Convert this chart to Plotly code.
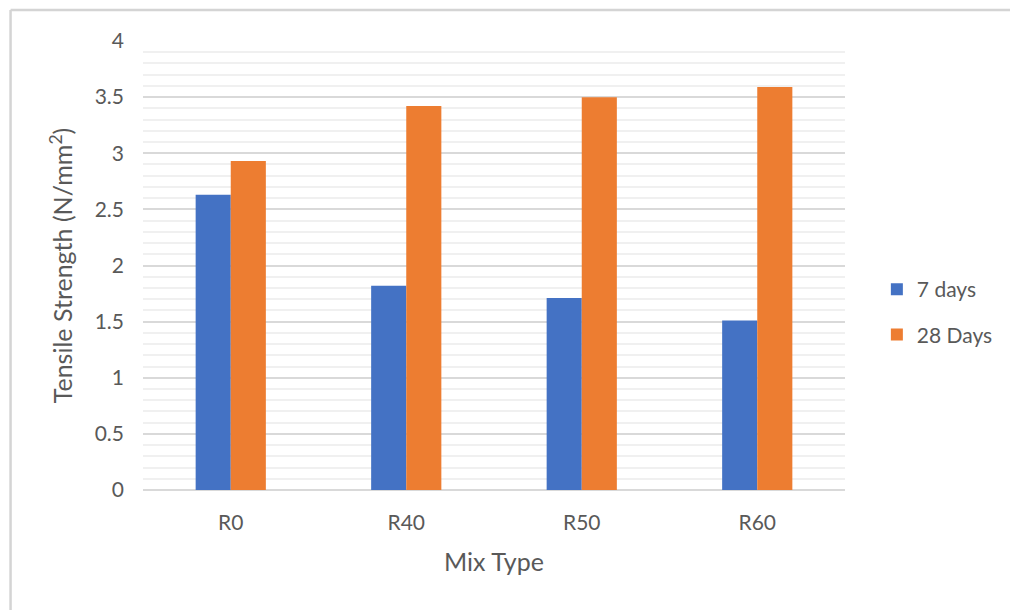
import plotly.graph_objects as go

# Split tensile strength by mix type and curing age
mix_types = ["R0", "R40", "R50", "R60"]
days_7 = [2.63, 1.82, 1.71, 1.51]
days_28 = [2.93, 3.42, 3.50, 3.59]
series_names = ["7 days", "28 Days"]
y_ticks = [0, 0.5, 1, 1.5, 2, 2.5, 3, 3.5, 4]
y_tick_text = ["0", "0.5", "1", "1.5", "2", "2.5", "3", "3.5", "4"]

BLUE = "#4472C4"
ORANGE = "#ED7D31"
TEXT = "#595959"
FONT = "Lato, Open Sans, sans-serif"

fig = go.Figure()
fig.add_trace(go.Bar(x=mix_types, y=days_7, name=series_names[0], legendgroup="a",
                     marker=dict(color=BLUE, line=dict(width=0))))
fig.add_trace(go.Bar(x=mix_types, y=days_28, name=series_names[1], legendgroup="b",
                     marker=dict(color=ORANGE, line=dict(width=0))))

W, H = 1010, 610
L, R, T, B = 143, 162, 41, 120
pw, ph = W - L - R, H - T - B

def px_x(px):
    return (px - L) / pw

def px_y(py):
    return 1 - (py - T) / ph

fig.update_layout(
    width=W, height=H,
    margin=dict(l=L, r=R, t=T, b=B),
    paper_bgcolor="white", plot_bgcolor="white",
    barmode="group", bargap=0.6, bargroupgap=0,
    font=dict(family=FONT, color=TEXT, size=20),
    showlegend=True,
    legend=dict(x=px_x(880), y=px_y(269), xanchor="left", yanchor="top",
                font=dict(size=21, color=TEXT), tracegroupgap=15,
                itemwidth=30, bgcolor="rgba(0,0,0,0)", traceorder="grouped"),
    xaxis=dict(
        showgrid=False, zeroline=False, showline=False,
        tickfont=dict(size=21, color=TEXT),
        ticks="outside", ticklen=14, tickcolor="rgba(0,0,0,0)",
        title=dict(text="Mix Type", font=dict(size=25, color=TEXT), standoff=20),
    ),
    yaxis=dict(
        range=[0, 4], tickvals=y_ticks, ticktext=y_tick_text,
        showgrid=True, gridcolor="#d9d9d9", gridwidth=1.5,
        zeroline=True, zerolinecolor="#d9d9d9", zerolinewidth=1.5,
        showline=False,
        tickfont=dict(size=21, color=TEXT),
        ticklabelstandoff=18,
        minor=dict(dtick=0.1, showgrid=True, gridcolor="#f0f0f0", gridwidth=1.5),
        title=dict(text="Tensile Strength (N/mm<sup>2</sup>)",
                   font=dict(size=25, color=TEXT), standoff=14),
    ),
)

# Light gray chart-area frame on the left and top edges
frame = dict(type="line", xref="paper", yref="paper",
             line=dict(color="#d4d4d4", width=2.5), layer="below")
fig.add_shape(**frame, x0=px_x(10), x1=px_x(10), y0=px_y(10), y1=px_y(640))
fig.add_shape(**frame, x0=px_x(10), x1=px_x(1040), y0=px_y(10), y1=px_y(10))

fig.write_html("out.html")
